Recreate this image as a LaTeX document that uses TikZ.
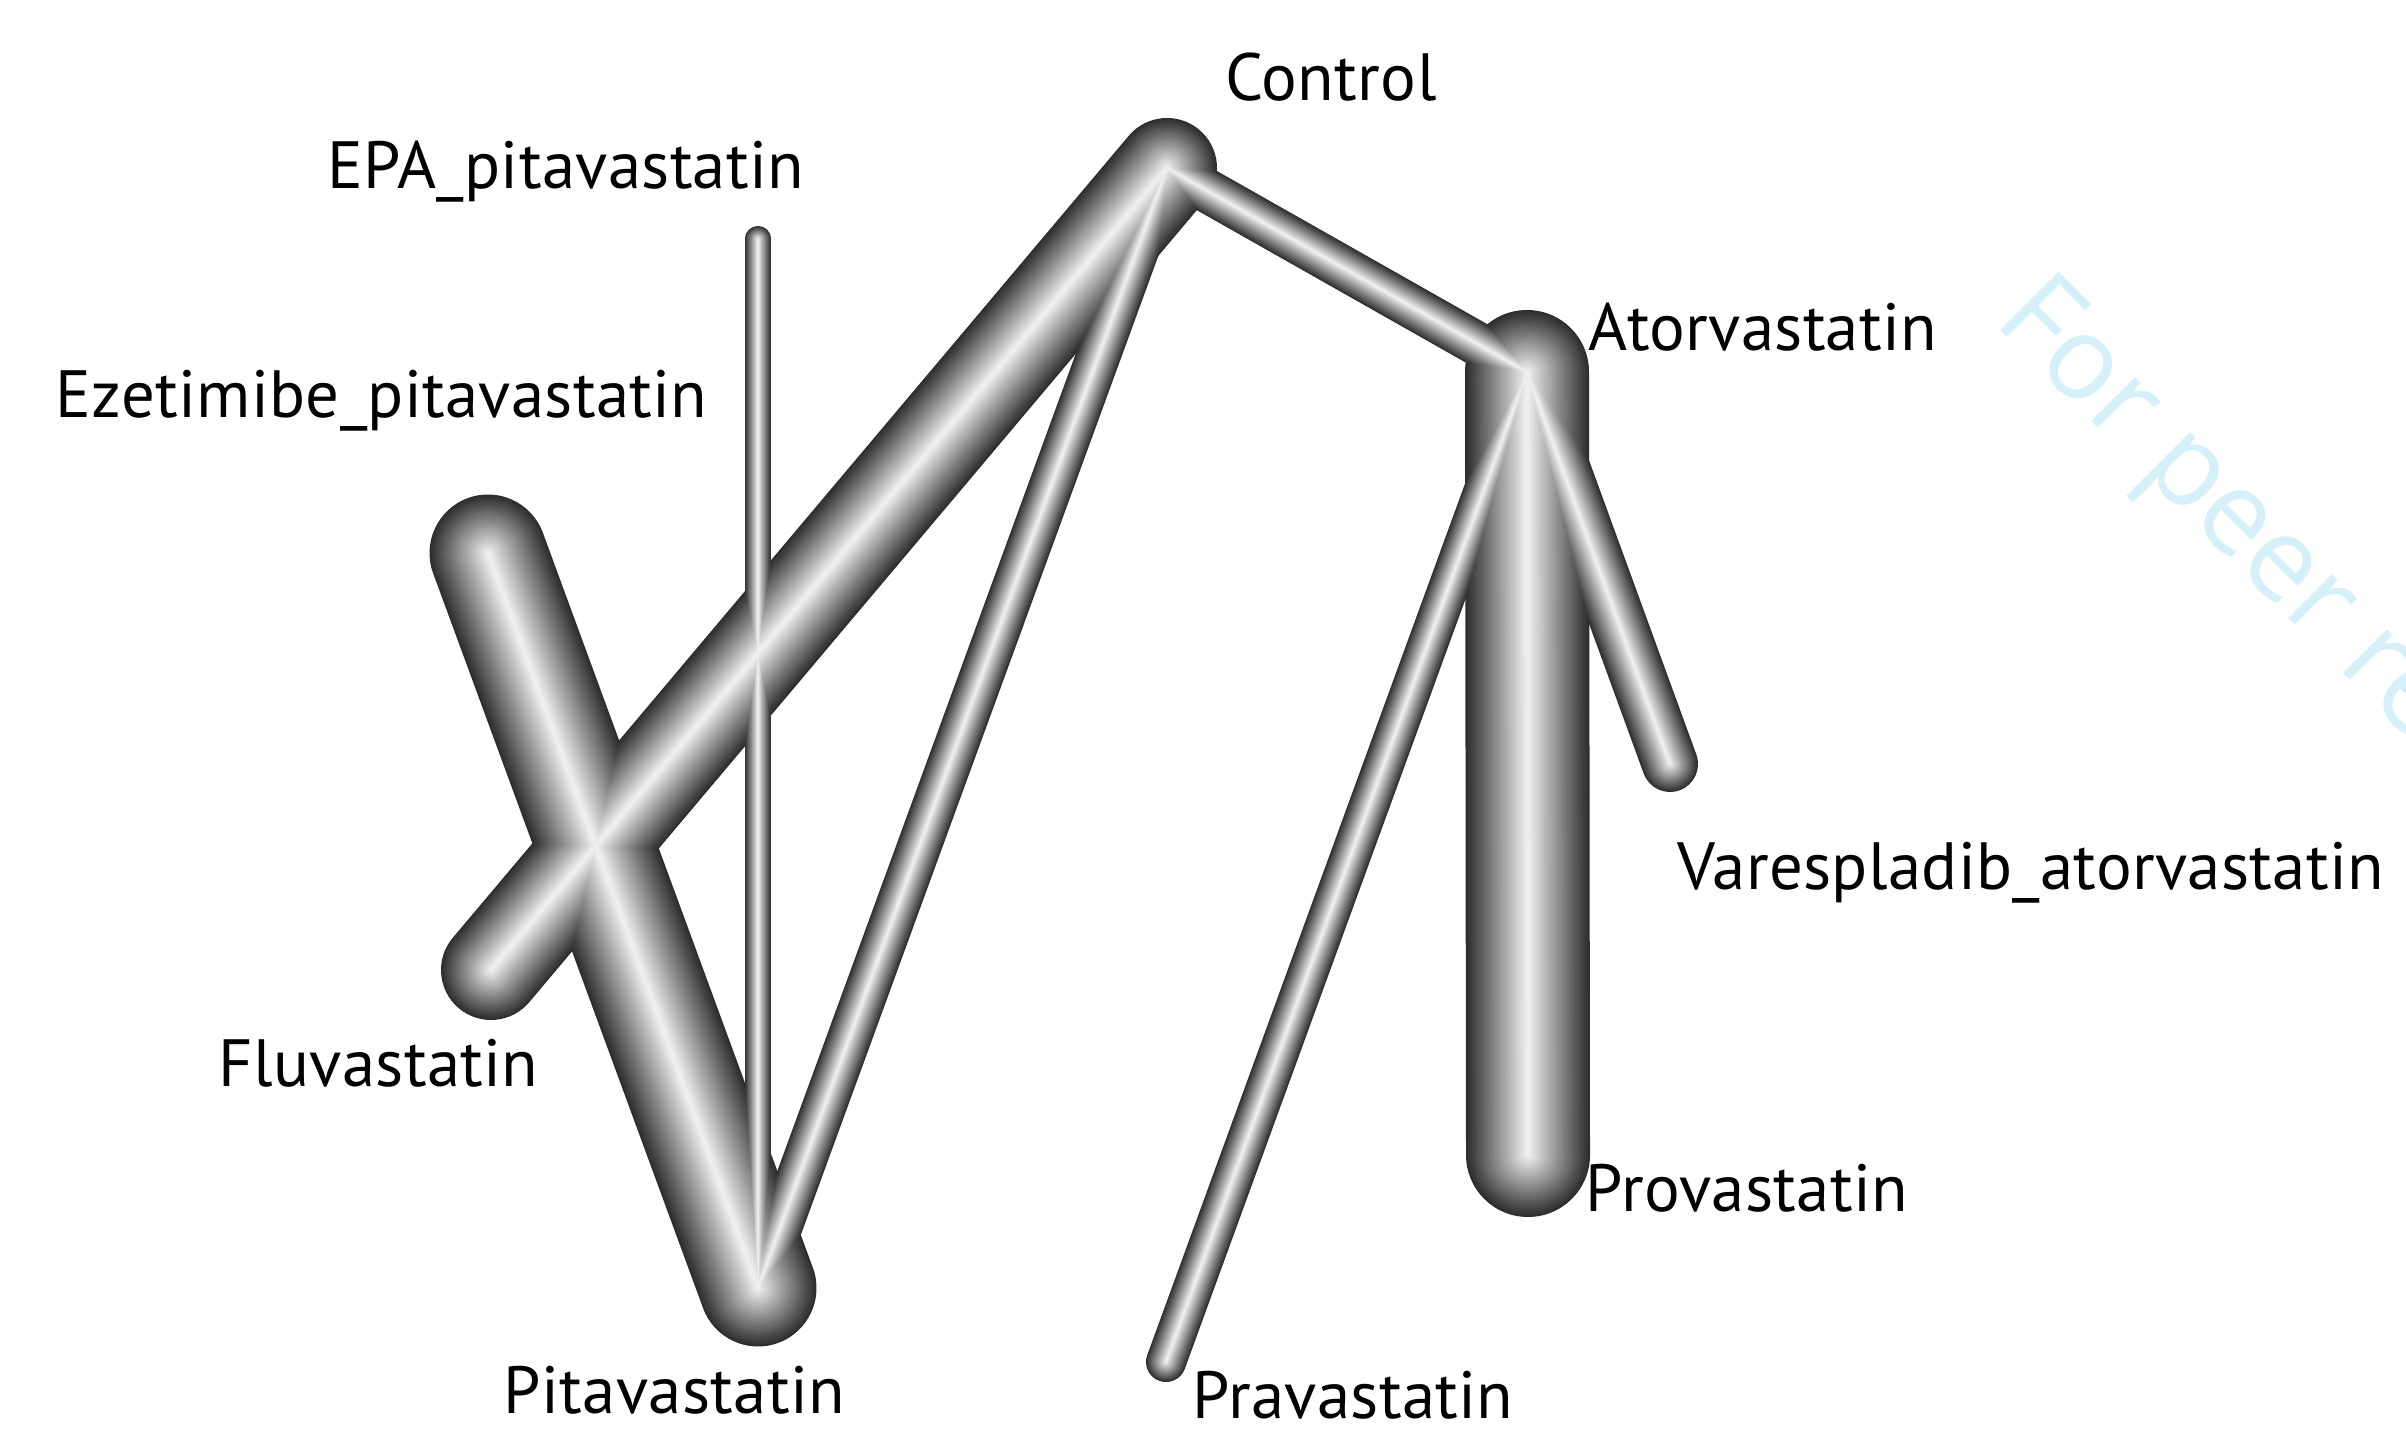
\documentclass[tikz,border=0pt]{standalone}
\usepackage{fontspec}
\setmainfont{PT Sans}[LetterSpace=0.5]
\newfontfamily\wmfont{Open Sans}
\definecolor{wmblue}{RGB}{214,240,250}
\begin{document}
\begin{tikzpicture}[x=0.01cm, y=-0.01cm,
	lbl/.style={anchor=base west, inner sep=0pt, font=\fontsize{19}{22}\selectfont}]
	\useasboundingbox (0,0) rectangle (2406,1443);
	\clip (0,0) rectangle (2406,1443);
	
	% watermark
	\node[anchor=base west, inner sep=0pt, rotate=-45, text=wmblue, font=\wmfont\fontsize{33}{40}\selectfont] (wm) at (1992,322) {For peer review};
	
	\coordinate (ctl) at (1167,168);
	\coordinate (epa) at (758,239);
	\coordinate (eze) at (488,553);
	\coordinate (flu) at (491,970);
	\coordinate (pit) at (758,1288);
	\coordinate (pra) at (1166,1362);
	\coordinate (ato) at (1527,372);
	\coordinate (var) at (1670,764);
	\coordinate (prv) at (1528,1155);
	
	\foreach \k in {0,1,...,29} {
		\pgfmathsetmacro\r{1-\k/30}
		\pgfmathsetmacro\g{96-78*\r}
		\foreach \a/\b/\w in {ctl/flu/100, eze/pit/117, ato/prv/124, ctl/ato/44, ctl/pit/44, ato/pra/40, ato/var/56, epa/pit/26}
			\draw[line cap=round, line width=\r*\w*0.01cm, draw=white!\g!black] (\a)--(\b);
	}
	
	\node[lbl] (lctl) at (1225,101) {Control};
	\node[lbl] (lepa) at (327,189) {EPA\_pitavastatin};
	\node[lbl] (leze) at (55,418) {Ezetimibe\_pitavastatin};
	\node[lbl] (lato) at (1588,351) {Atorvastatin};
	\node[lbl] (lvar) at (1677,889) {Varespladib\_atorvastatin};
	\node[lbl] (lprv) at (1585,1211) {Provastatin};
	\node[lbl] (lpra) at (1192,1418) {Pravastatin};
	\node[lbl] (lpit) at (503,1413) {Pitavastatin};
	\node[lbl] (lflu) at (218,1086) {Fluvastatin};
\end{tikzpicture}
\end{document}
